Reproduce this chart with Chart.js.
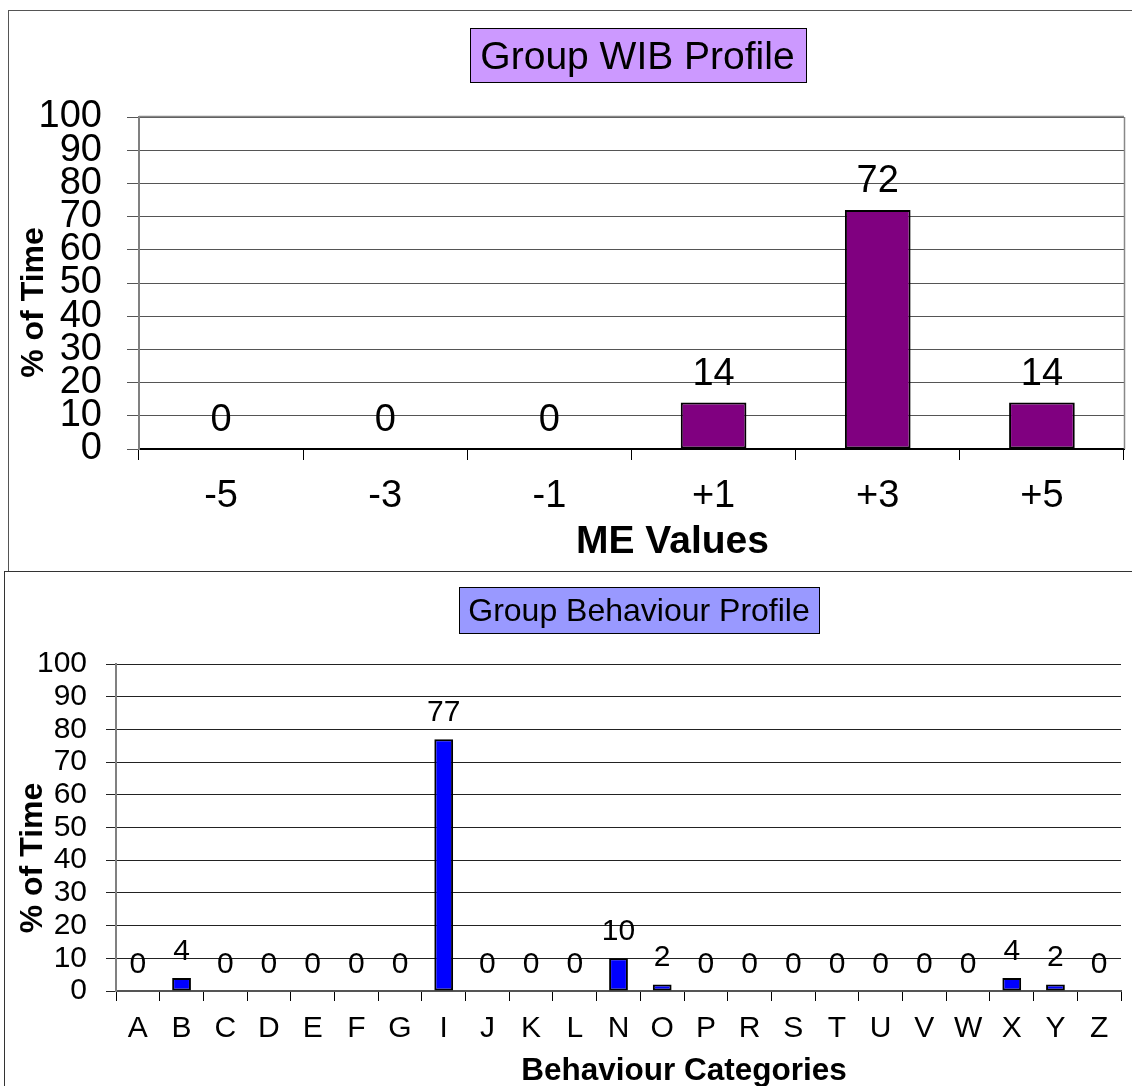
<!DOCTYPE html>
<html>
<head>
<meta charset="utf-8">
<title>Group Profiles</title>
<script src="https://cdn.jsdelivr.net/npm/chart.js@4.4.1/dist/chart.umd.min.js"></script>
<style>
  html, body { margin: 0; padding: 0; background: #fff; }
  body { width: 1132px; height: 1086px; position: relative; overflow: hidden; }
  .frame { position: absolute; box-sizing: border-box; background: #fff; }
  #wibFrame { left: 8px; top: 10px; width: 1140px; height: 562px; border: 1px solid #555; }
  #behFrame { left: 4px; top: 571px; width: 1150px; height: 530px; border: 1px solid #333; }
  canvas { position: absolute; left: 0; }
</style>
</head>
<body>
<div class="frame" id="wibFrame"></div>
<div class="frame" id="behFrame"></div>
<canvas id="wibChart" width="1132" height="571" style="top:0;width:1132px;height:571px"></canvas>
<canvas id="behChart" width="1132" height="515" style="top:571px;width:1132px;height:515px"></canvas>
<script>
// ---- data ----
const meValues = ['-5', '-3', '-1', '+1', '+3', '+5'];
const wibPercent = [0, 0, 0, 14, 72, 14];

const behaviourCategories = ['A', 'B', 'C', 'D', 'E', 'F', 'G', 'I', 'J', 'K', 'L', 'N',
                             'O', 'P', 'R', 'S', 'T', 'U', 'V', 'W', 'X', 'Y', 'Z'];
const behaviourPercent = [0, 4, 0, 0, 0, 0, 0, 77, 0, 0, 0, 10,
                          2, 0, 0, 0, 0, 0, 0, 0, 4, 2, 0];

const percentTicks = [0, 10, 20, 30, 40, 50, 60, 70, 80, 90, 100];

const FONT = '"Liberation Sans", Arial, Helvetica, sans-serif';

// Writes each bar's value above it.
const valueLabels = {
  id: 'valueLabels',
  afterDatasetsDraw(chart, args, opts) {
    const ctx = chart.ctx;
    const meta = chart.getDatasetMeta(0);
    const values = chart.data.datasets[0].data;
    ctx.save();
    ctx.font = opts.size + 'px ' + FONT;
    ctx.fillStyle = '#000';
    ctx.textAlign = 'center';
    ctx.textBaseline = 'alphabetic';
    meta.data.forEach((bar, i) => {
      ctx.fillText(String(values[i]), bar.x, bar.y - opts.gap);
    });
    ctx.restore();
  }
};

// Boxed chart title, axis titles and the optional plot-area edge.
const chartFrame = {
  id: 'chartFrame',
  afterDraw(chart, args, o) {
    const ctx = chart.ctx;
    const area = chart.chartArea;
    ctx.save();

    if (o.plotEdge) {
      ctx.strokeStyle = o.plotEdge;
      ctx.lineWidth = 1.5;
      ctx.beginPath();
      ctx.moveTo(Math.round(area.right) + 0.5, area.top);
      ctx.lineTo(Math.round(area.right) + 0.5, area.bottom);
      ctx.moveTo(area.left, Math.round(area.top) - 0.5);
      ctx.lineTo(area.right, Math.round(area.top) - 0.5);
      ctx.stroke();
    }

    // title in a filled box
    const t = o.title;
    ctx.font = t.size + 'px ' + FONT;
    const tw = ctx.measureText(t.text).width;
    const bw = Math.round(tw + 2 * t.padX);
    const bx = Math.round(t.cx - bw / 2);
    ctx.fillStyle = t.boxColor;
    ctx.fillRect(bx, t.top, bw, t.h);
    ctx.strokeStyle = '#000';
    ctx.lineWidth = 1;
    ctx.strokeRect(bx + 0.5, t.top + 0.5, bw, t.h);
    ctx.fillStyle = '#000';
    ctx.textAlign = 'center';
    ctx.textBaseline = 'alphabetic';
    ctx.fillText(t.text, t.cx, t.baseline);

    // category axis title
    const xt = o.xTitle;
    ctx.font = 'bold ' + xt.size + 'px ' + FONT;
    ctx.textAlign = 'center';
    ctx.fillText(xt.text, xt.cx, xt.baseline);

    // value axis title, rotated
    const yt = o.yTitle;
    ctx.font = 'bold ' + yt.size + 'px ' + FONT;
    ctx.translate(yt.baseline, yt.cy);
    ctx.rotate(-Math.PI / 2);
    ctx.textAlign = 'center';
    ctx.fillText(yt.text, 0, 0);

    ctx.restore();
  }
};

Chart.register(valueLabels, chartFrame);

function percentAxis(fontSize, tickLen, pad, gridColor, axisWidth) {
  return {
    min: 0,
    max: 100,
    afterBuildTicks: s => { s.ticks = percentTicks.map(v => ({ value: v })); },
    afterFit: s => { s.width = axisWidth; },
    ticks: {
      autoSkip: false,
      color: '#000',
      padding: pad,
      font: { family: FONT, size: fontSize, lineHeight: 1 }
    },
    grid: { color: gridColor, lineWidth: 1, tickLength: tickLen },
    border: { color: '#808080', width: 2 }
  };
}

function categoryAxis(fontSize, tickLen, pad, axisHeight, axisColor) {
  return {
    type: 'category',
    offset: true,
    afterFit: s => { s.height = axisHeight; },
    ticks: {
      autoSkip: false,
      maxRotation: 0,
      minRotation: 0,
      color: '#000',
      padding: pad,
      font: { family: FONT, size: fontSize }
    },
    grid: { offset: true, drawOnChartArea: false, drawTicks: true, tickLength: tickLen, color: '#000', lineWidth: 1 },
    border: { color: axisColor, width: 2 }
  };
}

// ---- Group WIB Profile ----
new Chart(document.getElementById('wibChart'), {
  type: 'bar',
  data: {
    labels: meValues,
    datasets: [{
      data: wibPercent,
      backgroundColor: '#800080',
      borderColor: '#000',
      borderWidth: 2,
      borderSkipped: false,
      categoryPercentage: 1,
      barPercentage: 0.4
    }]
  },
  options: {
    responsive: false,
    animation: false,
    events: [],
    layout: { padding: { top: 117, right: 8, left: 0, bottom: 0 } },
    plugins: {
      legend: { display: false },
      tooltip: { enabled: false },
      title: { display: false },
      valueLabels: { size: 38, gap: 18 },
      chartFrame: {
        plotEdge: '#888',
        title: { text: 'Group WIB Profile', size: 39, padX: 11, cx: 637.5, top: 28, h: 54, baseline: 69, boxColor: '#CC99FF' },
        xTitle: { text: 'ME Values', size: 39, cx: 672.5, baseline: 553 },
        yTitle: { text: '% of Time', size: 32, baseline: 43, cy: 302.5 }
      }
    },
    scales: {
      x: categoryAxis(38, 11, 14, 122, '#000'),
      y: percentAxis(38, 12, 25, '#555', 139)
    }
  }
});

// ---- Group Behaviour Profile ----
new Chart(document.getElementById('behChart'), {
  type: 'bar',
  data: {
    labels: behaviourCategories,
    datasets: [{
      data: behaviourPercent,
      backgroundColor: '#0000FF',
      borderColor: '#000',
      borderWidth: 2,
      borderSkipped: false,
      categoryPercentage: 1,
      barPercentage: 0.43
    }]
  },
  options: {
    responsive: false,
    animation: false,
    events: [],
    layout: { padding: { top: 93, right: 11, left: 0, bottom: 0 } },
    plugins: {
      legend: { display: false },
      tooltip: { enabled: false },
      title: { display: false },
      valueLabels: { size: 30, gap: 18 },
      chartFrame: {
        title: { text: 'Group Behaviour Profile', size: 32, padX: 9, cx: 639, top: 16, h: 46, baseline: 50, boxColor: '#9999FF' },
        xTitle: { text: 'Behaviour Categories', size: 31.5, cx: 684, baseline: 509 },
        yTitle: { text: '% of Time', size: 32, baseline: 42, cy: 287 }
      }
    },
    scales: {
      x: categoryAxis(30, 10, 10, 95, '#555'),
      y: percentAxis(30, 10, 19, '#222', 116)
    }
  }
});
</script>
</body>
</html>
